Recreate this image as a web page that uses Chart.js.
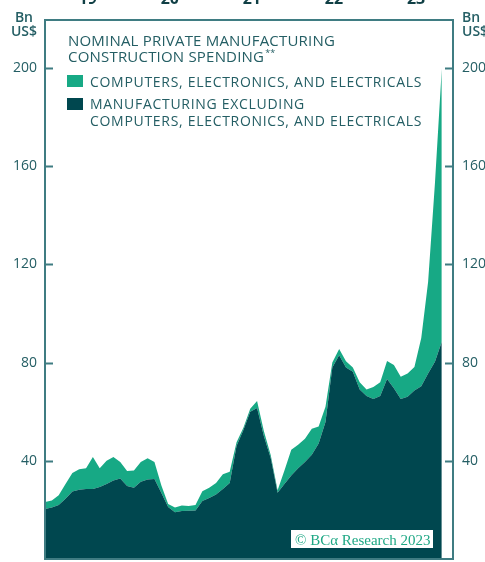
<!DOCTYPE html>
<html>
<head>
<meta charset="utf-8">
<script src="https://cdn.jsdelivr.net/npm/chart.js@4.4.0/dist/chart.umd.min.js"></script>
<style>
  html, body { margin: 0; padding: 0; background: #ffffff; overflow: hidden; }
  canvas { display: block; }
</style>
</head>
<body>
<canvas id="spendingChart" width="485" height="562"></canvas>
<script>
// Monthly, Jul 2018 - May 2023, bn US$ (SAAR)
const months = [
  '2018-07','2018-08','2018-09','2018-10','2018-11','2018-12',
  '2019-01','2019-02','2019-03','2019-04','2019-05','2019-06',
  '2019-07','2019-08','2019-09','2019-10','2019-11','2019-12',
  '2020-01','2020-02','2020-03','2020-04','2020-05','2020-06',
  '2020-07','2020-08','2020-09','2020-10','2020-11','2020-12',
  '2021-01','2021-02','2021-03','2021-04','2021-05','2021-06',
  '2021-07','2021-08','2021-09','2021-10','2021-11','2021-12',
  '2022-01','2022-02','2022-03','2022-04','2022-05','2022-06',
  '2022-07','2022-08','2022-09','2022-10','2022-11','2022-12',
  '2023-01','2023-02','2023-03','2023-04','2023-05'
];

const excludingElectronics = [
  20.4, 21, 22, 24.5, 27.5, 28.2, 28.5, 28.5, 29.3, 30.5, 32, 32.8,
  29.7, 29, 31.5, 32.4, 32.6, 27, 21.2, 19, 19.5, 19.6, 19.8, 23.6,
  24.8, 26.3, 28.5, 31, 46, 52.5, 60, 61.5, 50, 41, 27, 30.5,
  34, 37, 39.5, 42.5, 47, 55.8, 78, 83, 78, 76.3, 69, 66.4,
  65.2, 66.4, 73.3, 69.5, 65.2, 66.1, 68.6, 70.3, 75.5, 80.3, 88.5
];

const electronics = [
  2.8, 2.8, 4, 6, 7.5, 8.3, 8.5, 13, 7.7, 9.5, 9.5, 6.7,
  6.1, 7, 8, 8.6, 6.9, 3, 1.2, 2, 2.3, 2, 2.2, 4,
  4.2, 4.7, 6, 4.5, 1.5, 1, 1.2, 2.8, 2, 1.2, 1, 5.5,
  10.5, 9.5, 9.5, 10.5, 7, 6.2, 2, 2.5, 2.5, 1.7, 3, 2.6,
  4.8, 5.6, 7.3, 9.5, 9, 9.4, 9.6, 19.7, 37.3, 72.7, 111.1
];

const yearTicks = [2019, 2020, 2021, 2022, 2023];
const valueTicks = [40, 80, 120, 160, 200];

const titleLines = ['NOMINAL PRIVATE MANUFACTURING', 'CONSTRUCTION SPENDING'];
const legendLines = [
  ['COMPUTERS, ELECTRONICS, AND ELECTRICALS'],
  ['MANUFACTURING EXCLUDING', 'COMPUTERS, ELECTRONICS, AND ELECTRICALS']
];

const DARK = '#00474f';
const LIGHT = '#17a985';
const INK = '#245e64';
const FRAME = '#3f7c82';

// month string -> decimal year
const toYear = m => Number(m.slice(0, 4)) + (Number(m.slice(5, 7)) - 1) / 12;
const series = vals => vals.map((v, i) => ({ x: toYear(months[i]), y: v }));

// y axes: fixed width, no extra room for half-height end labels
const fitValueAxis = width => s => {
  s.width = width;
  s.paddingTop = 0;
  s.paddingBottom = 0;
};

const frameAndText = {
  id: 'frameAndText',
  afterDatasetsDraw(chart) {
    const { ctx, chartArea: a, scales } = chart;
    ctx.save();

    // plot frame and inward ticks
    ctx.strokeStyle = FRAME;
    ctx.lineWidth = 2;
    ctx.strokeRect(a.left, a.top, a.right - a.left, a.bottom - a.top);
    valueTicks.forEach(v => {
      const py = Math.round(scales.y.getPixelForValue(v)) + 0.5;
      ctx.beginPath();
      ctx.moveTo(a.left, py); ctx.lineTo(a.left + 8, py);
      ctx.moveTo(a.right - 8, py); ctx.lineTo(a.right, py);
      ctx.stroke();
    });

    // year labels above the frame, partly cut by the top edge
    ctx.fillStyle = '#103f45';
    ctx.font = 'bold 16px "Open Sans"';
    ctx.textAlign = 'center';
    ctx.textBaseline = 'alphabetic';
    yearTicks.forEach(y => {
      ctx.fillText(String(y).slice(2), scales.x.getPixelForValue(y + 0.02), 4);
    });

    // unit labels
    ctx.fillStyle = INK;
    ctx.font = '600 14px "Open Sans"';
    ctx.textAlign = 'right';
    ctx.fillText('Bn', a.left - 12, 22);
    ctx.fillText('US$', a.left - 8, 36);
    ctx.textAlign = 'left';
    ctx.fillText('Bn', a.right + 9, 22);
    ctx.fillText('US$', a.right + 9, 36);

    // title
    ctx.font = '15px "Open Sans"';
    ctx.letterSpacing = '0.2px';
    ctx.fillText(titleLines[0], a.left + 23, 46);
    ctx.fillText(titleLines[1], a.left + 23, 62);
    const w = ctx.measureText(titleLines[1]).width;
    ctx.font = '9px "Open Sans"';
    ctx.fillText('**', a.left + 24 + w, 56);

    // legend
    const rows = [[75, [87]], [98, [109, 126]]];
    const colors = [LIGHT, DARK];
    ctx.font = '14px "Open Sans"';
    ctx.letterSpacing = '0.7px';
    rows.forEach(([by, baselines], i) => {
      ctx.fillStyle = colors[i];
      ctx.fillRect(a.left + 22, by, 16, 12);
      ctx.fillStyle = INK;
      legendLines[i].forEach((t, j) => ctx.fillText(t, a.left + 45, baselines[j]));
    });
    ctx.letterSpacing = '0px';

    // copyright tag
    ctx.fillStyle = '#ffffff';
    ctx.fillRect(291, 530, 142, 18);
    ctx.fillStyle = '#1fa885';
    ctx.font = '15px "Liberation Serif"';
    ctx.fillText('\u00a9 BC\u03b1 Research 2023', 295, 545);

    ctx.restore();
  }
};

new Chart(document.getElementById('spendingChart'), {
  type: 'line',
  data: {
    datasets: [
      {
        label: 'Manufacturing excluding computers, electronics, and electricals',
        data: series(excludingElectronics),
        backgroundColor: DARK,
        borderWidth: 0,
        pointRadius: 0,
        fill: 'origin',
        tension: 0
      },
      {
        label: 'Computers, electronics, and electricals',
        data: series(electronics),
        backgroundColor: LIGHT,
        borderWidth: 0,
        pointRadius: 0,
        fill: '-1',
        tension: 0
      }
    ]
  },
  options: {
    responsive: false,
    animation: false,
    layout: { padding: { top: 0, bottom: 3, left: 0, right: 0 } },
    plugins: { legend: { display: false }, tooltip: { enabled: false } },
    scales: {
      x: {
        type: 'linear',
        position: 'top',
        min: 2018.5,
        max: 2023.47,
        grid: { display: false, drawTicks: false },
        border: { display: false },
        afterBuildTicks: s => { s.ticks = yearTicks.map(v => ({ value: v })); },
        afterFit: s => { s.height = 20; },
        ticks: { display: false }
      },
      y: {
        stacked: true,
        min: 0,
        max: 219.5,
        grid: { display: false, drawTicks: false },
        border: { display: false },
        afterBuildTicks: s => { s.ticks = valueTicks.map(v => ({ value: v })); },
        afterFit: fitValueAxis(45),
        ticks: { padding: 8, color: INK, font: { family: 'Open Sans', size: 14, weight: '500' } }
      },
      y2: {
        position: 'right',
        min: 0,
        max: 219.5,
        grid: { display: false, drawTicks: false },
        border: { display: false },
        afterBuildTicks: s => { s.ticks = valueTicks.map(v => ({ value: v })); },
        afterFit: fitValueAxis(32),
        ticks: { padding: 9, color: INK, font: { family: 'Open Sans', size: 14, weight: '500' } }
      }
    }
  },
  plugins: [frameAndText]
});
</script>
</body>
</html>
